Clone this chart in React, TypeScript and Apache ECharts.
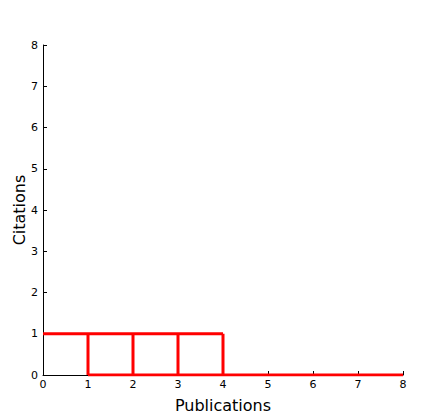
import React, { useEffect, useRef } from "react";
import * as echarts from "echarts";

const xTicks = [0, 1, 2, 3, 4, 5, 6, 7, 8];
const yTicks = [0, 1, 2, 3, 4, 5, 6, 7, 8];
// staircase segments
const segTop = [[0, 1], [4, 1]];
const segBottom = [[1, 0], [8, 0]];
const segV1 = [[1, 0], [1, 1]];
const segV2 = [[2, 0], [2, 1]];
const segV3 = [[3, 0], [3, 1]];
const segV4 = [[4, 0], [4, 1]];
const segments = [segTop, segBottom, segV1, segV2, segV3, segV4];

export default function App() {
  const ref = useRef<HTMLDivElement>(null);
  useEffect(() => {
    if (!ref.current) return;
    const chart = echarts.init(ref.current, null, { renderer: "svg" });
    const tickFont = { color: "#000", fontSize: 11, fontFamily: "DejaVu Sans" };
    chart.setOption({
      animation: false,
      backgroundColor: "#fff",
      grid: { left: 43, right: 41, top: 45, bottom: 42, containLabel: false, outerBoundsMode: "none" },
      xAxis: {
        type: "value",
        min: xTicks[0],
        max: xTicks[xTicks.length - 1],
        interval: 1,
        name: "Publications",
        nameLocation: "middle",
        nameGap: 22,
        nameMoveOverlap: false,
        nameTextStyle: { color: "#000", fontSize: 16, fontFamily: "DejaVu Sans" },
        axisLine: { show: true, lineStyle: { color: "#000", width: 1 } },
        axisTick: { show: true, inside: true, length: 4, lineStyle: { color: "#000" } },
        axisLabel: { ...tickFont, margin: 4 },
        splitLine: { show: false },
      },
      yAxis: {
        type: "value",
        min: yTicks[0],
        max: yTicks[yTicks.length - 1],
        interval: 1,
        name: "Citations",
        nameLocation: "middle",
        nameGap: 16,
        nameMoveOverlap: false,
        nameTextStyle: { color: "#000", fontSize: 16, fontFamily: "DejaVu Sans" },
        axisLine: { show: true, lineStyle: { color: "#000", width: 1 } },
        axisTick: { show: true, inside: true, length: 4, lineStyle: { color: "#000" } },
        axisLabel: { ...tickFont, margin: 5 },
        splitLine: { show: false },
      },
      series: segments.map((seg) => ({
        type: "line",
        data: seg,
        symbol: "none",
        lineStyle: { color: "#ff0000", width: 3 },
        z: 3,
      })),
    });
    return () => chart.dispose();
  }, []);
  return <div ref={ref} style={{ width: 444, height: 417, position: "absolute", left: 0, top: 0 }} />;
}
